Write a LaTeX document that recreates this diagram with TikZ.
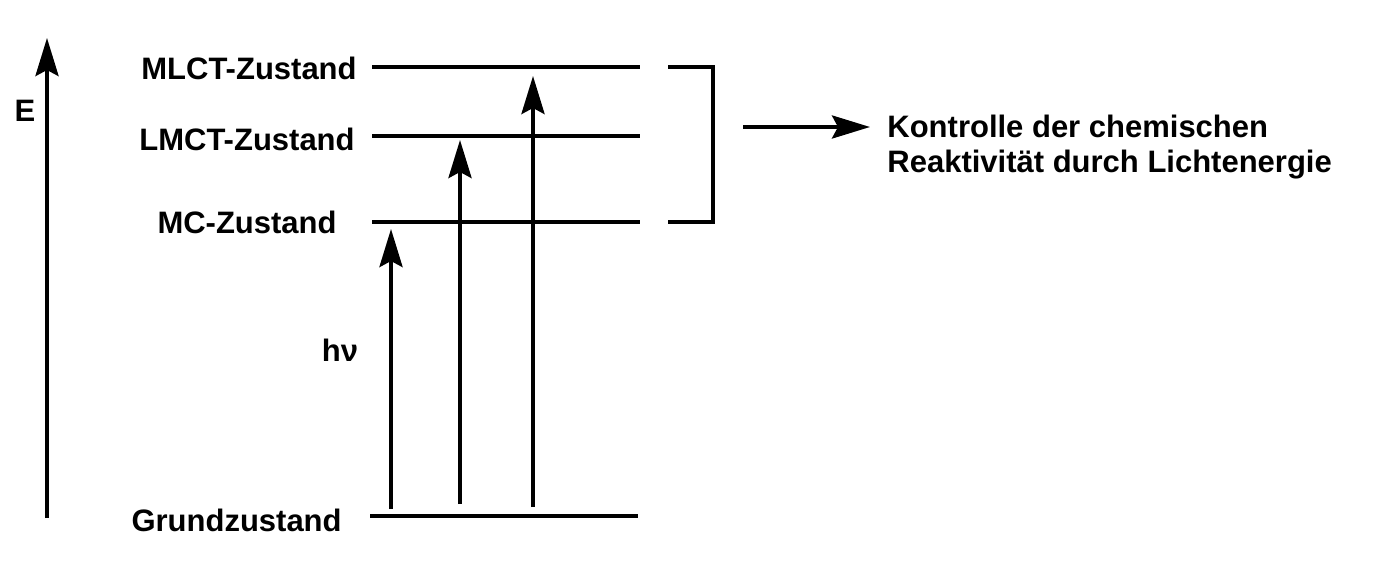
\documentclass[tikz,border=0pt]{standalone}
\usepackage{fontspec}
\setmainfont{Liberation Sans}
\usetikzlibrary{arrows.meta}
\begin{document}
\begin{tikzpicture}[x=0.5pt,y=-0.5pt,
  lvl/.style={line width=2pt},
  up/.style={line width=2pt,-{Stealth[length=19pt,width=11.5pt,inset=3pt]}},
  lbl/.style={font=\fontsize{15.5}{17}\selectfont\bfseries,inner sep=0pt}]
\useasboundingbox (0,0) rectangle (1384,572);
% energy axis
\coordinate (e0) at (47,518);
\coordinate (e1) at (47,38);
\draw[up] (e0) -- (e1);
\node[lbl] (E) at (25,111) {E};
% levels
\coordinate (mlctL) at (372,67); \coordinate (mlctR) at (640,67);
\coordinate (lmctL) at (372,136); \coordinate (lmctR) at (640,136);
\coordinate (mcL) at (372,222); \coordinate (mcR) at (640,222);
\coordinate (gL) at (370,516); \coordinate (gR) at (638,516);
\draw[lvl] (mlctL) -- (mlctR);
\draw[lvl] (lmctL) -- (lmctR);
\draw[lvl] (mcL) -- (mcR);
\draw[lvl] (gL) -- (gR);
\node[lbl,anchor=east] (mlct) at (357,68) {MLCT-Zustand};
\node[lbl,anchor=east] (lmct) at (355,139) {LMCT-Zustand};
\node[lbl,anchor=east] (mc) at (337,222) {MC-Zustand};
\node[lbl,anchor=east] (g) at (342,520) {Grundzustand};
% excitation arrows
\coordinate (a1s) at (391,509); \coordinate (a1e) at (391,229);
\coordinate (a2s) at (460,504); \coordinate (a2e) at (460,140);
\coordinate (a3s) at (533,507); \coordinate (a3e) at (533,76);
\draw[up] (a1s) -- (a1e);
\draw[up] (a2s) -- (a2e);
\draw[up] (a3s) -- (a3e);
\node[lbl] (hv) at (340,350) {hν};
% bracket
\coordinate (b1) at (668,67); \coordinate (b2) at (713,67);
\coordinate (b3) at (713,222); \coordinate (b4) at (668,222);
\draw[lvl] (b1) -- (b2) -- (b3) -- (b4);
% result arrow
\coordinate (r0) at (743,127); \coordinate (r1) at (870,127);
\draw[up] (r0) -- (r1);
\node[lbl,anchor=west,align=left] (k) at (887,147) {Kontrolle der chemischen\\[0.5pt]Reaktivität durch Lichtenergie};
\end{tikzpicture}
\end{document}
